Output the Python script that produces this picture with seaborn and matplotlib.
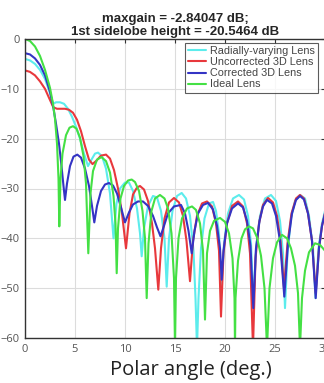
#!/usr/bin/env python3

import pandas as pd
import matplotlib
matplotlib.use("Agg")
import matplotlib.pyplot as plt
import seaborn as sns

TITLE = "maxgain = -2.84047 dB;\n1st sidelobe height = -20.5464 dB"
XLABEL = "Polar angle (deg.)"

# (angle deg, gain dB)
radial_x = [0.0, 0.5, 1.0, 1.5, 2.0, 2.4, 2.83, 3.1, 3.5, 3.9, 4.3, 4.7, 5.1, 5.5, 5.9, 6.3,
            6.65, 7.0, 7.3, 7.7, 8.1, 8.5, 8.85, 9.15, 9.5, 10.0, 10.4, 10.8, 11.2, 11.5,
            11.67, 11.9, 12.3, 12.8, 13.2, 13.6, 13.95, 14.17, 14.4, 14.75, 15.2, 15.67,
            16.1, 16.5, 16.85, 17.05, 17.2, 17.35, 17.6, 17.95, 18.4, 18.8, 19.1, 19.4,
            19.65, 19.9, 20.3, 20.8, 21.4, 21.9, 22.3, 22.6, 22.85, 23.1, 23.5, 24.0, 24.6,
            25.1, 25.5, 25.8, 26.0, 26.25, 26.6, 27.0, 27.5, 28.0, 28.4, 28.8, 29.05, 29.35,
            29.7, 30.0]
radial_y = [-4.0, -4.3, -5.0, -6.2, -8.0, -10.3, -13.0, -12.7, -12.7, -13.0, -14.0, -15.6,
            -17.6, -20.0, -23.0, -25.5, -24.2, -23.0, -22.8, -23.5, -26.0, -31.0, -40.0,
            -33.0, -30.0, -28.8, -28.8, -30.5, -34.0, -39.0, -43.6, -38.0, -33.5, -31.5,
            -31.8, -34.5, -40.0, -49.7, -40.0, -34.5, -31.5, -30.9, -32.0, -35.5, -42.5,
            -52.0, -62.0, -52.0, -42.0, -36.0, -33.0, -32.7, -34.5, -39.0, -50.0, -41.0,
            -35.0, -32.0, -31.3, -32.2, -35.5, -41.0, -53.0, -42.0, -35.5, -32.0, -31.3,
            -32.5, -36.5, -43.0, -54.0, -43.0, -36.0, -32.5, -31.3, -32.0, -35.5, -42.0,
            -52.0, -42.0, -37.0, -34.5]

uncorr_x = [0.0, 0.5, 1.0, 1.5, 2.0, 2.4, 2.83, 3.2, 3.6, 4.0, 4.4, 4.8, 5.2, 5.6, 6.0, 6.4,
            6.75, 7.1, 7.6, 8.1, 8.5, 8.9, 9.3, 9.7, 10.1, 10.45, 10.8, 11.2, 11.5, 11.9,
            12.3, 12.7, 13.0, 13.33, 13.6, 13.95, 14.4, 14.9, 15.4, 15.8, 16.15, 16.5, 16.8,
            17.2, 17.7, 18.2, 18.7, 19.1, 19.4, 19.6, 19.85, 20.2, 20.7, 21.3, 21.8, 22.2,
            22.5, 22.8, 23.05, 23.4, 23.8, 24.3, 24.8, 25.2, 25.55, 25.9, 26.25, 26.65, 27.1,
            27.5, 27.9, 28.3, 28.7, 29.07, 29.4, 29.7, 30.0]
uncorr_y = [-6.3, -6.6, -7.3, -8.5, -10.0, -11.8, -13.7, -14.0, -14.0, -14.0, -14.2, -14.8,
            -16.2, -18.5, -21.5, -24.2, -25.1, -24.5, -23.4, -23.2, -24.0, -26.3, -30.0,
            -35.0, -42.0, -35.0, -31.2, -29.8, -29.5, -30.2, -32.5, -37.0, -42.0, -50.3,
            -42.0, -36.0, -32.8, -31.9, -32.8, -35.5, -40.5, -48.6, -40.5, -35.5, -33.0,
            -32.6, -33.6, -37.0, -42.5, -55.7, -43.0, -37.0, -33.5, -32.6, -33.6, -37.0,
            -43.0, -62.0, -44.0, -37.0, -33.3, -31.9, -32.8, -35.5, -40.5, -50.0, -41.0,
            -35.0, -32.0, -31.3, -32.0, -35.0, -40.5, -51.0, -42.0, -37.5, -35.0]

corr_x = [0.0, 0.5, 1.0, 1.5, 2.0, 2.5, 2.83, 3.1, 3.4, 3.65, 3.85, 4.0, 4.2, 4.5, 4.85,
          5.23, 5.6, 6.0, 6.4, 6.7, 6.93, 7.2, 7.6, 8.0, 8.4, 8.8, 9.2, 9.6, 10.0, 10.4,
          10.8, 11.3, 11.8, 12.3, 12.8, 13.2, 13.55, 13.9, 14.3, 14.9, 15.6, 16.0, 16.35,
          16.67, 16.95, 17.3, 17.8, 18.3, 18.8, 19.2, 19.5, 19.67, 19.85, 20.2, 20.7, 21.3,
          21.8, 22.2, 22.55, 22.83, 23.1, 23.45, 23.8, 24.2, 24.7, 25.1, 25.5, 25.93, 26.3,
          26.7, 27.1, 27.5, 27.9, 28.3, 28.7, 29.07, 29.4, 29.7, 30.0]
corr_y = [-2.84, -3.1, -3.9, -5.2, -7.3, -10.6, -13.7, -17.0, -21.0, -25.5, -29.5, -32.3,
          -29.0, -25.5, -23.6, -23.2, -23.8, -26.0, -29.5, -33.5, -36.8, -33.5, -30.5,
          -29.2, -28.9, -29.4, -31.0, -33.8, -36.8, -34.8, -33.2, -32.6, -32.6, -33.5,
          -35.5, -37.8, -39.6, -37.5, -35.0, -33.6, -33.3, -35.0, -38.5, -43.0, -38.5,
          -35.0, -33.3, -32.9, -34.2, -37.5, -42.0, -48.3, -42.5, -37.0, -34.0, -33.0,
          -33.8, -36.5, -41.5, -54.0, -42.0, -36.5, -33.6, -32.3, -33.0, -35.5, -40.5,
          -51.7, -41.0, -35.0, -32.3, -31.5, -32.2, -35.0, -40.5, -52.0, -42.0, -37.5, -35.0]

ideal_x = [0.0, 0.5, 1.0, 1.5, 2.0, 2.5, 2.8, 3.0, 3.2, 3.35, 3.43, 3.55, 3.75, 4.1, 4.45,
           4.8, 5.15, 5.5, 5.85, 6.1, 6.33, 6.55, 6.8, 7.2, 7.65, 8.1, 8.5, 8.85, 9.05, 9.17,
           9.3, 9.55, 9.9, 10.3, 10.67, 11.0, 11.4, 11.75, 12.0, 12.17, 12.35, 12.65, 13.0,
           13.5, 13.95, 14.3, 14.65, 14.9, 15.0, 15.1, 15.35, 15.7, 16.2, 16.7, 17.1, 17.5,
           17.8, 18.0, 18.2, 18.5, 18.9, 19.5, 20.0, 20.4, 20.75, 20.95, 21.0, 21.05, 21.3,
           21.65, 22.0, 22.4, 22.8, 23.2, 23.6, 23.95, 24.2, 24.45, 24.8, 25.2, 25.7, 26.2,
           26.6, 27.0, 27.3, 27.5, 27.7, 28.0, 28.4, 29.0, 29.5, 30.0]
ideal_y = [0.0, -0.4, -1.5, -3.4, -6.2, -9.8, -13.0, -16.0, -21.0, -28.0, -37.6, -28.0,
           -23.0, -19.3, -17.8, -17.5, -18.0, -19.8, -23.5, -29.0, -43.0, -31.0, -26.5,
           -24.2, -23.7, -24.5, -26.8, -31.5, -37.0, -47.0, -38.0, -32.0, -29.5, -28.4,
           -28.2, -28.7, -30.5, -34.5, -40.0, -52.0, -41.0, -34.5, -32.0, -31.3, -32.0,
           -34.0, -39.0, -48.0, -62.0, -48.0, -40.0, -36.0, -34.0, -33.6, -34.3, -37.0,
           -42.5, -56.3, -43.0, -38.5, -36.5, -35.9, -36.7, -39.0, -44.0, -52.0, -62.0,
           -52.0, -44.5, -40.0, -38.2, -37.6, -38.0, -39.8, -43.5, -50.0, -62.0, -50.0,
           -44.0, -40.8, -39.3, -40.0, -42.0, -45.5, -51.0, -62.0, -52.0, -46.5, -42.8,
           -41.0, -41.3, -42.5]

SERIES = [
    ("Radially-varying Lens", radial_x, radial_y, "#5cecec"),
    ("Uncorrected 3D Lens", uncorr_x, uncorr_y, "#e8383c"),
    ("Corrected 3D Lens", corr_x, corr_y, "#3434c4"),
    ("Ideal Lens", ideal_x, ideal_y, "#44e044"),
]

sns.set_style("white")
plt.rcParams["font.family"] = ["Liberation Sans", "DejaVu Sans"]

fig = plt.figure(figsize=(3.24, 3.83), dpi=100)
ax = fig.add_axes([25 / 324, 45 / 383, 300 / 324, 299 / 383])

for name, xs, ys, color in SERIES:
    df = pd.DataFrame({"angle": xs, "gain": ys})
    sns.lineplot(data=df, x="angle", y="gain", ax=ax, color=color, lw=1.5,
                 label=name, sort=False, estimator=None)

ax.set_xlim(0, 30)
ax.set_ylim(-60, 0)
ax.set_xticks([0, 5, 10, 15, 20, 25, 30])
ax.set_yticks([-60, -50, -40, -30, -20, -10, 0])
ax.grid(True, color="#dcdcdc", lw=0.8)
ax.set_axisbelow(True)
for sp in ax.spines.values():
    sp.set_color("#333333")
    sp.set_linewidth(1.0)
ax.tick_params(direction="in", length=3, width=0.8, top=True, right=True,
               labelsize=8, colors="#333333", labelcolor="#555555", pad=4)
for lab in ax.get_xticklabels() + ax.get_yticklabels():
    lab.set_family(["Open Sans", "DejaVu Sans"])

ax.set_xlabel(XLABEL, fontsize=14.5, family=["Open Sans", "DejaVu Sans"],
              color="#222222")
ax.xaxis.set_label_coords(0.553, -0.075)
ax.set_ylabel("")
ax.set_title(TITLE, fontsize=9.5, fontweight="bold", linespacing=1.05, pad=3)

leg = ax.legend(loc="upper right", bbox_to_anchor=(0.977, 0.987), borderaxespad=0,
                fontsize=7.8, handlelength=1.6, handletextpad=0.4,
                labelspacing=0.1, borderpad=0.3, frameon=True, fancybox=False)
leg.get_frame().set_edgecolor("#333333")
leg.get_frame().set_linewidth(0.8)
for t in leg.get_texts():
    t.set_color("#444444")

fig.savefig("out.png", dpi=100)
